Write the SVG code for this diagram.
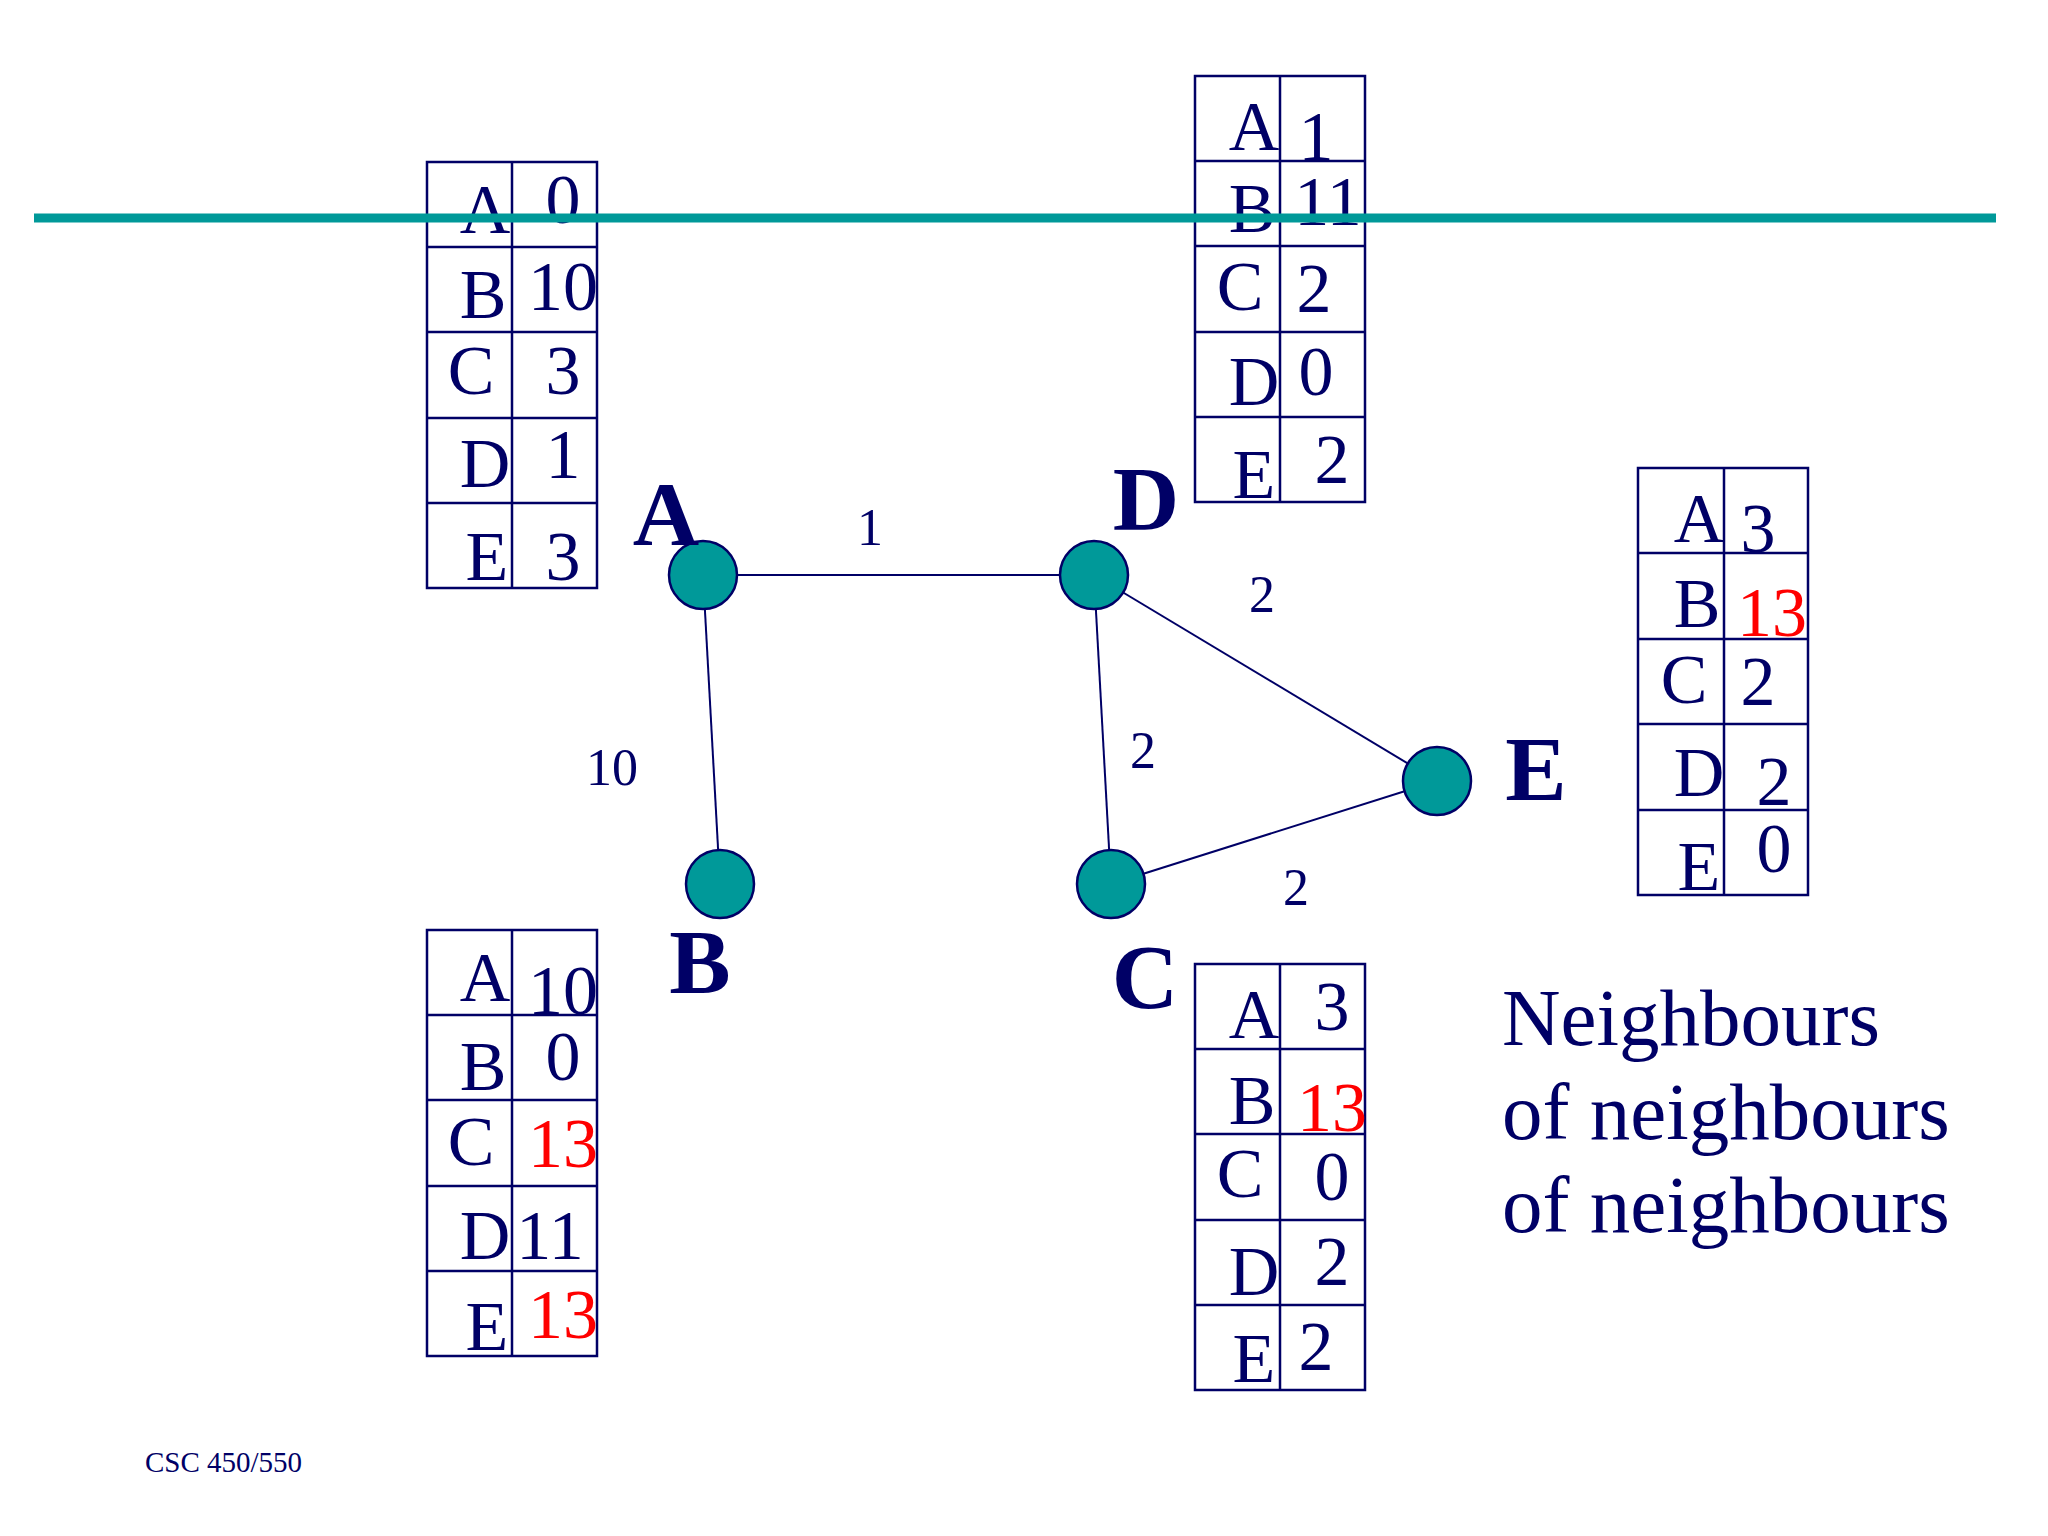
<svg xmlns="http://www.w3.org/2000/svg" width="2048" height="1536" viewBox="0 0 2048 1536">
<style>
.t{font-family:"Liberation Serif",serif;fill:#000066;font-size:70px;text-anchor:middle}
.r{fill:#ff0000}
.g{fill:none;stroke:#000066;stroke-width:2.5}
.e{stroke:#000066;stroke-width:2}
.n{fill:#009999;stroke:#000066;stroke-width:2.5}
.L{font-family:"Liberation Serif",serif;fill:#000066;font-size:92px;font-weight:bold;text-anchor:middle}
.w{font-family:"Liberation Serif",serif;fill:#000066;font-size:52px;text-anchor:middle}
</style>
<rect width="2048" height="1536" fill="#fff"/>
<g id="connectors">
<line class="e" x1="703" y1="575" x2="1094" y2="575"/>
<line class="e" x1="703" y1="575" x2="720" y2="884"/>
<line class="e" x1="1094" y1="575" x2="1111" y2="884"/>
<line class="e" x1="1094" y1="575" x2="1437" y2="781"/>
<line class="e" x1="1111" y1="884" x2="1437" y2="781"/>
<text class="w" x="870" y="545">1</text>
<text class="w" x="1262" y="612">2</text>
<text class="w" x="612" y="785">10</text>
<text class="w" x="1143" y="768">2</text>
<text class="w" x="1296" y="905">2</text>
</g>
<g id="tableA">
<path class="g" d="M427 162H597V588H427ZM512 162V588M427 247H597M427 332H597M427 418H597M427 503H597"/>
<text class="t"><tspan x="485" y="233">A</tspan><tspan x="563" y="223">0</tspan></text>
<text class="t"><tspan x="483" y="318">B</tspan><tspan x="563" y="310">10</tspan></text>
<text class="t"><tspan x="471" y="394">C</tspan><tspan x="563" y="394">3</tspan></text>
<text class="t"><tspan x="485" y="487">D</tspan><tspan x="563" y="478">1</tspan></text>
<text class="t"><tspan x="487" y="580">E</tspan><tspan x="563" y="580">3</tspan></text>
</g>
<g id="tableD">
<path class="g" d="M1195 76H1365V502H1195ZM1280 76V502M1195 161H1365M1195 246H1365M1195 332H1365M1195 417H1365"/>
<text class="t"><tspan x="1254" y="150">A</tspan><tspan x="1316" y="160">1</tspan></text>
<text class="t"><tspan x="1252" y="232">B</tspan><tspan x="1328" y="225">11</tspan></text>
<text class="t"><tspan x="1240" y="310">C</tspan><tspan x="1314" y="312">2</tspan></text>
<text class="t"><tspan x="1254" y="405">D</tspan><tspan x="1316" y="395">0</tspan></text>
<text class="t"><tspan x="1254" y="498">E</tspan><tspan x="1332" y="483">2</tspan></text>
</g>
<g id="tableE">
<path class="g" d="M1638 468H1808V895H1638ZM1724 468V895M1638 553H1808M1638 639H1808M1638 724H1808M1638 810H1808"/>
<text class="t"><tspan x="1699" y="542">A</tspan><tspan x="1758" y="552">3</tspan></text>
<text class="t"><tspan x="1697" y="627">B</tspan><tspan class="r" x="1772" y="636">13</tspan></text>
<text class="t"><tspan x="1684" y="703">C</tspan><tspan x="1758" y="705">2</tspan></text>
<text class="t"><tspan x="1699" y="796">D</tspan><tspan x="1774" y="805">2</tspan></text>
<text class="t"><tspan x="1699" y="890">E</tspan><tspan x="1774" y="872">0</tspan></text>
</g>
<g id="tableB">
<path class="g" d="M427 930H597V1356H427ZM512 930V1356M427 1015H597M427 1100H597M427 1186H597M427 1271H597"/>
<text class="t"><tspan x="485" y="1001">A</tspan><tspan x="563" y="1014">10</tspan></text>
<text class="t"><tspan x="483" y="1090">B</tspan><tspan x="563" y="1080">0</tspan></text>
<text class="t"><tspan x="471" y="1165">C</tspan><tspan class="r" x="563" y="1167">13</tspan></text>
<text class="t"><tspan x="485" y="1259">D</tspan><tspan x="550" y="1259">11</tspan></text>
<text class="t"><tspan x="487" y="1350">E</tspan><tspan class="r" x="563" y="1338">13</tspan></text>
</g>
<g id="tableC">
<path class="g" d="M1195 964H1365V1390H1195ZM1280 964V1390M1195 1049H1365M1195 1134H1365M1195 1220H1365M1195 1305H1365"/>
<text class="t"><tspan x="1254" y="1038">A</tspan><tspan x="1332" y="1030">3</tspan></text>
<text class="t"><tspan x="1252" y="1124">B</tspan><tspan class="r" x="1332" y="1131">13</tspan></text>
<text class="t"><tspan x="1240" y="1197">C</tspan><tspan x="1332" y="1200">0</tspan></text>
<text class="t"><tspan x="1254" y="1295">D</tspan><tspan x="1332" y="1285">2</tspan></text>
<text class="t"><tspan x="1254" y="1382">E</tspan><tspan x="1316" y="1370">2</tspan></text>
</g>
<line x1="34" y1="218" x2="1996" y2="218" stroke="#009999" stroke-width="9"/>
<g id="nodeA"><circle class="n" cx="703" cy="575" r="34"/><text class="L" x="666" y="545">A</text></g>
<g id="nodeD"><circle class="n" cx="1094" cy="575" r="34"/><text class="L" x="1146" y="530">D</text></g>
<g id="nodeB"><circle class="n" cx="720" cy="884" r="34"/><text class="L" x="700" y="993">B</text></g>
<g id="nodeC"><circle class="n" cx="1111" cy="884" r="34"/><text class="L" x="1145" y="1008">C</text></g>
<g id="nodeE"><circle class="n" cx="1437" cy="781" r="34"/><text class="L" x="1536" y="800">E</text></g>
<g id="caption" font-family="Liberation Serif,serif" fill="#000066" font-size="81">
<text x="1502" y="1045">Neighbours</text>
<text x="1502" y="1139">of neighbours</text>
<text x="1502" y="1232">of neighbours</text>
</g>
<text x="145" y="1472" font-family="Liberation Serif,serif" font-size="29" fill="#000066">CSC 450/550</text>
</svg>
